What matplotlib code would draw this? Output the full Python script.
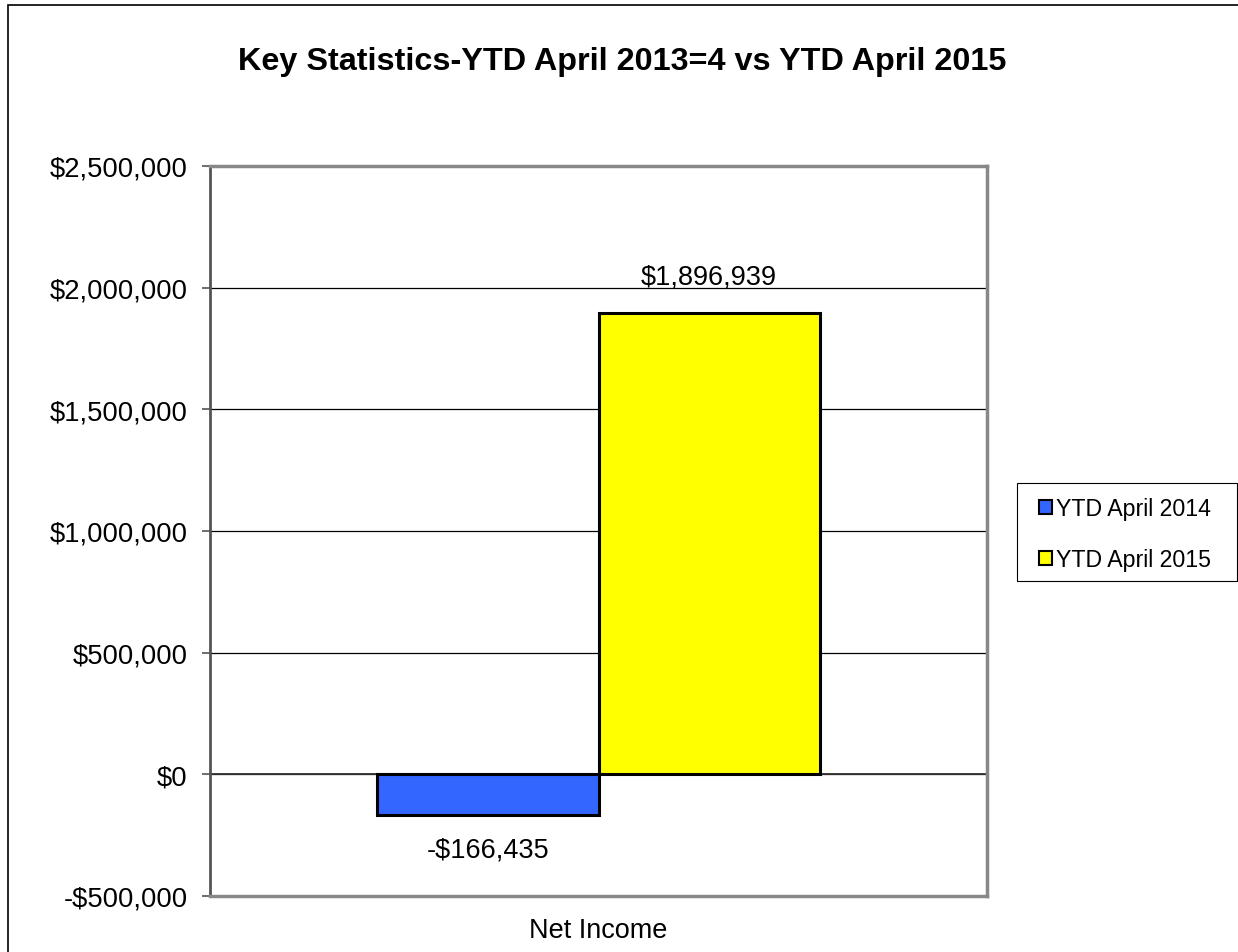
import matplotlib
matplotlib.use("Agg")
import matplotlib.pyplot as plt
from matplotlib.patches import Rectangle
from matplotlib.ticker import FuncFormatter

title = "Key Statistics-YTD April 2013=4 vs YTD April 2015"
categories = ["Net Income"]
series_names = ["YTD April 2014", "YTD April 2015"]
values_2014 = [-166435]
values_2015 = [1896939]
series_colors = ["#3366FF", "#FFFF00"]
yticks = [-500000, 0, 500000, 1000000, 1500000, 2000000, 2500000]

plt.rcParams['font.family'] = ['Liberation Sans', 'DejaVu Sans']

W, H = 1238, 953
fig = plt.figure(figsize=(W / 100, H / 100), dpi=100)
ax = fig.add_axes([210 / W, 1 - 897 / H, (987 - 210) / W, (897 - 167) / H])

# outer frame
fig.patches.append(Rectangle((8 / W, -0.1), 1.2, 1 - 6 / H + 0.1, transform=fig.transFigure,
                             fill=False, edgecolor='black', linewidth=1.2, zorder=0))

bw = 0.2845
x = list(range(len(categories)))
b1 = ax.bar([xi - bw / 2 for xi in x], values_2014, width=bw, color=series_colors[0],
            edgecolor='black', linewidth=2.2, label=series_names[0], zorder=3)
b2 = ax.bar([xi + bw / 2 for xi in x], values_2015, width=bw, color=series_colors[1],
            edgecolor='black', linewidth=2.2, label=series_names[1], zorder=3)

def money(v):
    return ("-$" if v < 0 else "$") + f"{abs(int(round(v))):,}"

for bars, vals in ((b1, values_2014), (b2, values_2015)):
    for r, v in zip(bars, vals):
        cx = r.get_x() + r.get_width() / 2
        if v >= 0:
            ax.annotate(money(v), (cx, v), xytext=(0, 17), textcoords='offset points',
                        ha='center', va='bottom', fontsize=19.5)
        else:
            ax.annotate(money(v), (cx, v), xytext=(0, -15.5), textcoords='offset points',
                        ha='center', va='top', fontsize=19.5)

ax.set_xlim(-0.5, 0.5)
ax.set_ylim(yticks[0], yticks[-1])
ax.set_yticks(yticks)
ax.yaxis.set_major_formatter(FuncFormatter(lambda v, p: money(v)))
ax.set_xticks(x)
ax.set_xticklabels(categories)
ax.tick_params(axis='y', labelsize=19.7, length=5.5, width=1.2, color='#555555', pad=10.5)
ax.tick_params(axis='x', labelsize=19.5, length=0, pad=15)
ax.grid(axis='y', color='black', linewidth=0.9, zorder=1)
ax.axhline(0, color='#333333', linewidth=1.3, zorder=2)

ax.spines['left'].set_color('#555555')
ax.spines['left'].set_linewidth(2)
for s in ('top', 'right', 'bottom'):
    ax.spines[s].set_color('#888888')
    ax.spines[s].set_linewidth(2.5)

fig.text(622 / W, 1 - 62 / H, title, ha='center', va='center', fontsize=23.3, fontweight='bold')

# legend frame
fig.patches.append(Rectangle((1017 / W, 1 - 582 / H), (1237 - 1017) / W, (582 - 484) / H,
                             transform=fig.transFigure, fill=True, facecolor='white',
                             edgecolor='black', linewidth=0.8, zorder=1))
leg = fig.legend(handles=[b1, b2], labels=series_names, loc='upper left',
                 bbox_to_anchor=(1039 / W, 1 - 498 / H), fontsize=16.7,
                 frameon=False, handlelength=0.55,
                 handleheight=0.55, handletextpad=0.2, labelspacing=1.2,
                 borderpad=0, borderaxespad=0)
leg.set_zorder(5)
for h in leg.legend_handles:
    h.set_linewidth(1.5)

fig.savefig("out.png", dpi=100)
